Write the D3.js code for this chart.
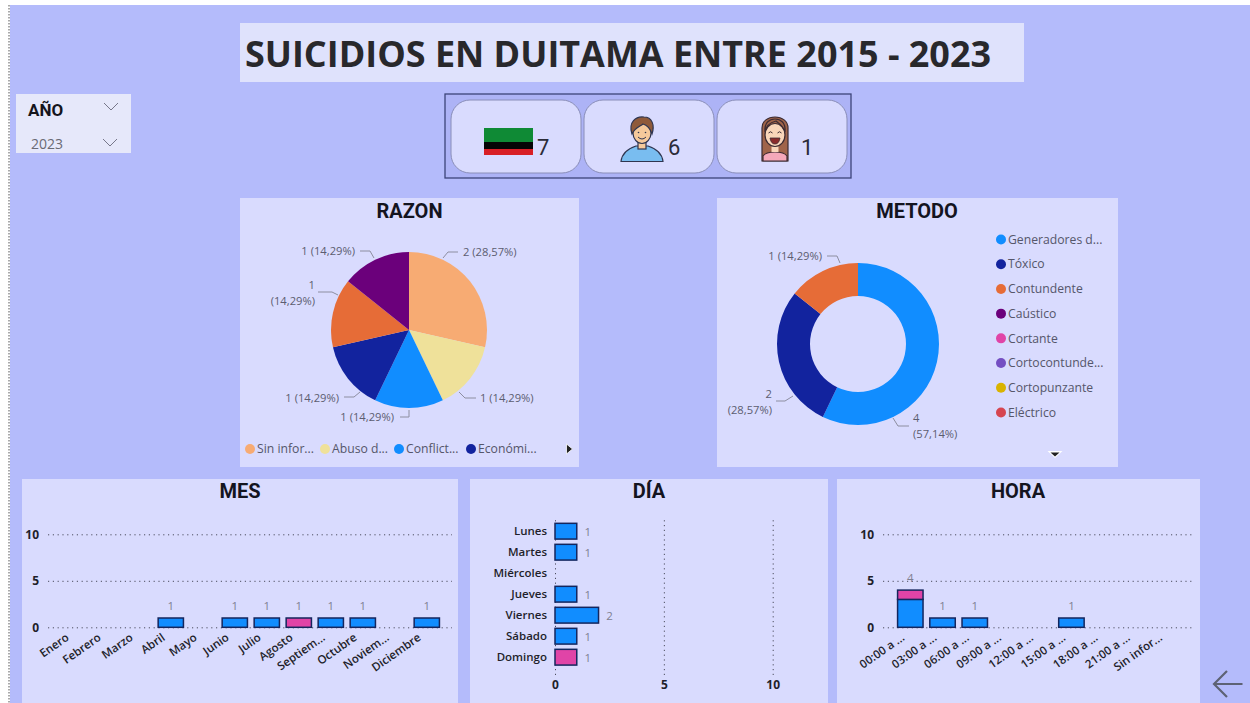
<!DOCTYPE html>
<html lang="es">
<head>
    <meta charset="UTF-8">
    <title>Suicidios en Duitama</title>
    <script src="https://d3js.org/d3.v7.min.js"></script>
    <style>
        html, body { margin: 0; padding: 0; background: #fff; overflow: hidden; }
        text { font-family: "Open Sans", sans-serif; }
        .panel-title { font-family: Roboto, sans-serif; font-weight: 700; font-size: 20px; fill: #14141f; text-anchor: middle; }
        .tick-label { font-weight: 600; font-size: 11.5px; fill: #1f1f2b; }
        .val-label { font-size: 11.5px; fill: #7f8092; }
        .pie-label { font-size: 11.2px; fill: #5c5d70; }
        .legend-label { font-size: 12.2px; fill: #55566a; }
        .leader { fill: none; stroke: #8d8ea0; stroke-width: 1; }
        .card-num { font-family: Roboto, sans-serif; font-size: 22px; fill: #2b2b38; }
    </style>
</head>
<body>
    <svg id="chart" width="1250" height="703"></svg>

    <script>
        // card totals
        const cardValues = [7, 6, 1];

        // razon pie
        const razonValues = [2, 1, 1, 1, 1, 1];
        const razonLabels = ["2 (28,57%)", "1 (14,29%)", "1 (14,29%)", "1 (14,29%)", "1\n(14,29%)", "1 (14,29%)"];
        const razonColors = ["#f7ab73", "#efe19a", "#118dff", "#12239e", "#e66c37", "#6b007b"];
        const razonLegend = ["Sin infor...", "Abuso d...", "Conflict...", "Económi..."];

        // metodo donut
        const metodoValues = [4, 2, 1];
        const metodoLabels = ["4\n(57,14%)", "2\n(28,57%)", "1 (14,29%)"];
        const metodoLegend = ["Generadores d...", "Tóxico", "Contundente", "Caústico", "Cortante", "Cortocontunde...", "Cortopunzante", "Eléctrico"];
        const metodoColors = ["#118dff", "#12239e", "#e66c37", "#6b007b", "#e044a7", "#744ec2", "#d9b300", "#d64550"];

        // mes
        const meses = ["Enero", "Febrero", "Marzo", "Abril", "Mayo", "Junio", "Julio", "Agosto", "Septiem...", "Octubre", "Noviem...", "Diciembre"];
        const mesBlue = [0, 0, 0, 1, 0, 1, 1, 0, 1, 1, 0, 1];
        const mesPink = [0, 0, 0, 0, 0, 0, 0, 1, 0, 0, 0, 0];

        // dia
        const dias = ["Lunes", "Martes", "Miércoles", "Jueves", "Viernes", "Sábado", "Domingo"];
        const diaBlue = [1, 1, 0, 1, 2, 1, 0];
        const diaPink = [0, 0, 0, 0, 0, 0, 1];

        // hora
        const horas = ["00:00 a ...", "03:00 a ...", "06:00 a ...", "09:00 a ...", "12:00 a ...", "15:00 a ...", "18:00 a ...", "21:00 a ...", "Sin infor..."];
        const horaBlue = [3, 1, 1, 0, 0, 1, 0, 0, 0];
        const horaPink = [1, 0, 0, 0, 0, 0, 0, 0, 0];

        const axisTicks = [0, 5, 10];

        const blue = "#118dff", pink = "#e044a7", barStroke = "#14265e";
        const panelFill = "#d9dbfe";

        const svg = d3.select("#chart");

        // page background
        svg.append("rect").attr("width", 1250).attr("height", 703).attr("fill", "#fff");
        svg.append("rect").attr("x", 10).attr("y", 5).attr("width", 1240).attr("height", 698).attr("fill", "#b4bbfb");
        svg.append("line").attr("x1", 9).attr("x2", 9).attr("y1", 5).attr("y2", 703)
            .attr("stroke", "#555").attr("stroke-dasharray", "1.5,1.5");

        function panel(x, y, w, h, fill) {
            svg.append("rect").attr("x", x).attr("y", y).attr("width", w).attr("height", h).attr("fill", fill || panelFill);
        }

        // title
        panel(240, 23, 784, 59, "#dfe2fc");
        svg.append("text").attr("x", 245).attr("y", 66.5)
            .attr("textLength", 746).attr("lengthAdjust", "spacingAndGlyphs")
            .style("font-weight", 700).style("font-size", "35px").attr("fill", "#28282c")
            .text("SUICIDIOS EN DUITAMA ENTRE 2015 - 2023");

        // slicer
        panel(16, 94, 115, 59, "#e6e8fa");
        svg.append("text").attr("x", 28).attr("y", 116).style("font-family", "Roboto").style("font-weight", 700)
            .style("font-size", "17px").attr("fill", "#15151c").text("AÑO");
        svg.append("text").attr("x", 31).attr("y", 149).style("font-size", "14px").attr("fill", "#6a6a74").text("2023");
        [[111, 107], [110, 143]].forEach(([cx, cy]) => {
            svg.append("path").attr("d", `M${cx - 7},${cy - 4}L${cx},${cy + 3}L${cx + 7},${cy - 4}`)
                .attr("fill", "none").attr("stroke", "#77778a").attr("stroke-width", 1);
        });

        // cards
        svg.append("rect").attr("x", 445).attr("y", 94).attr("width", 406).attr("height", 84)
            .attr("fill", "#adb3f6").attr("stroke", "#3c4478").attr("stroke-width", 1.3);
        [451, 584, 717].forEach(x => {
            svg.append("rect").attr("x", x).attr("y", 100).attr("width", 130).attr("height", 73).attr("rx", 19)
                .attr("fill", panelFill).attr("stroke", "#8a8eb8").attr("stroke-width", 1);
        });
        [537, 668, 801].forEach((x, i) => {
            svg.append("text").attr("class", "card-num").attr("x", x).attr("y", 155).text(cardValues[i]);
        });

        // flag
        const flag = svg.append("g");
        flag.append("rect").attr("x", 484).attr("y", 128).attr("width", 49).attr("height", 14).attr("fill", "#0f8a35");
        flag.append("rect").attr("x", 484).attr("y", 142).attr("width", 49).attr("height", 7).attr("fill", "#050505");
        flag.append("rect").attr("x", 484).attr("y", 149).attr("width", 49).attr("height", 6).attr("fill", "#d81f26");

        // man icon
        const man = svg.append("g").attr("transform", "translate(642,0)").attr("stroke", "#2f3550").attr("stroke-width", 1.2);
        man.append("path").attr("d", "M-21,161.5C-20,152 -12,148 -6,146L6,146C12,148 20,152 21,161.5Z").attr("fill", "#79bdf0");
        man.append("rect").attr("x", -4).attr("y", 140).attr("width", 8).attr("height", 9).attr("fill", "#f5c99b");
        man.append("ellipse").attr("cy", 133).attr("rx", 9).attr("ry", 10.5).attr("fill", "#f5c99b");
        man.append("path").attr("d", "M-10,134C-14,122 -6,116 2,117C10,117 13,125 10,134C8,128 5,125 1,124C-3,127 -7,128 -10,134Z").attr("fill", "#8f5a3a");
        man.append("circle").attr("cx", -3.5).attr("cy", 132.5).attr("r", 0.8).attr("fill", "#2f3550").attr("stroke", "none");
        man.append("circle").attr("cx", 3.5).attr("cy", 132.5).attr("r", 0.8).attr("fill", "#2f3550").attr("stroke", "none");
        man.append("path").attr("d", "M-4,137Q0,141 4,137").attr("fill", "none").attr("stroke-width", 1);

        // woman icon
        const woman = svg.append("g").attr("transform", "translate(775,0)").attr("stroke", "#3d2c33").attr("stroke-width", 1.2);
        woman.append("path").attr("d", "M-13,161V128C-13,121 -7,117 0,117C7,117 13,121 13,128V161Z").attr("fill", "#a0644a");
        woman.append("path").attr("d", "M-12,161V156C-10,153 -5,152 0,152C5,152 10,153 12,156V161Z").attr("fill", "#f5a8ba");
        woman.append("rect").attr("x", -3.5).attr("y", 145).attr("width", 7).attr("height", 7).attr("fill", "#f9d6ba").attr("stroke", "none");
        woman.append("ellipse").attr("cy", 135).attr("rx", 10).attr("ry", 11.5).attr("fill", "#f9d6ba");
        woman.append("path").attr("d", "M-10,132C-9,125 -3,122 1,121C5,124 9,127 10,132C11,122 5,119 0,119C-5,119 -11,122 -10,132Z").attr("fill", "#a0644a");
        woman.append("path").attr("d", "M-6.5,133Q-4.5,130.5 -2.5,133M2.5,133Q4.5,130.5 6.5,133").attr("fill", "none").attr("stroke-width", 1);
        woman.append("path").attr("d", "M-5,138H5Q4,144 0,144Q-4,144 -5,138Z").attr("fill", "#8a2b2b").attr("stroke-width", 0.8);

        // razon
        panel(240, 198, 339, 269);
        svg.append("text").attr("class", "panel-title").attr("x", 409.5).attr("y", 218).text("RAZON");

        const pie = d3.pie().sort(null).value(d => d);
        const razonArc = d3.arc().innerRadius(0).outerRadius(78);
        const razonG = svg.append("g").attr("transform", "translate(409,330)");
        razonG.selectAll("path").data(pie(razonValues)).enter().append("path")
            .attr("d", razonArc).attr("fill", (d, i) => razonColors[i]);

        // callout layout for the pie labels, same order as the slices
        const razonCallouts = [
            { line: [[443, 258], [448, 252], [458, 252]], x: 463, y: 252, anchor: "start" },
            { line: [[459, 392], [465, 398], [476, 398]], x: 480, y: 398.5, anchor: "start" },
            { line: [[409, 410], [409, 417], [400, 417]], x: 394, y: 417.5, anchor: "end" },
            { line: [[360, 392], [354, 397], [344, 397]], x: 339, y: 398.5, anchor: "end" },
            { line: [[338, 295], [332, 292], [318, 292]], x: 315, y: 285, anchor: "end" },
            { line: [[374, 258], [370, 251], [360, 251]], x: 355, y: 251, anchor: "end" }
        ];
        const metodoCallouts = [
            { line: [[893, 418], [898, 426], [909, 426]], x: 913, y: 418, anchor: "start" },
            { line: [[793, 396], [785, 401], [776, 401]], x: 772, y: 394, anchor: "end" },
            { line: [[840, 263], [837, 256], [827, 256]], x: 822, y: 256, anchor: "end" }
        ];

        function drawCallouts(callouts, labels) {
            callouts.forEach((c, i) => {
                svg.append("path").attr("class", "leader").attr("d", d3.line()(c.line));
                labels[i].split("\n").forEach((t, j) => {
                    svg.append("text").attr("class", "pie-label").attr("x", c.x).attr("y", c.y + j * 16)
                        .attr("dy", "0.35em").attr("text-anchor", c.anchor).text(t);
                });
            });
        }
        drawCallouts(razonCallouts, razonLabels);

        const razonLegendX = d3.scaleOrdinal().domain(razonLegend).range([250, 325, 399, 471]);
        razonLegend.forEach((name, i) => {
            svg.append("circle").attr("cx", razonLegendX(name)).attr("cy", 449).attr("r", 5).attr("fill", razonColors[i]);
            svg.append("text").attr("class", "legend-label").attr("x", razonLegendX(name) + 7).attr("y", 449)
                .attr("dy", "0.35em").text(name);
        });
        svg.append("path").attr("d", "M566.5,444L572.5,449L566.5,454Z").attr("fill", "#222").attr("stroke", "#fff").attr("stroke-width", 0.8);

        // metodo
        panel(717, 198, 401, 269);
        svg.append("text").attr("class", "panel-title").attr("x", 917).attr("y", 218).text("METODO");

        const metodoArc = d3.arc().innerRadius(48).outerRadius(81);
        const metodoG = svg.append("g").attr("transform", "translate(858,344)");
        metodoG.selectAll("path").data(pie(metodoValues)).enter().append("path")
            .attr("d", metodoArc).attr("fill", (d, i) => metodoColors[i]);
        drawCallouts(metodoCallouts, metodoLabels);

        const metodoLegendY = d3.scalePoint().domain(metodoLegend).range([239.5, 412.5]);
        metodoLegend.forEach((name, i) => {
            svg.append("circle").attr("cx", 1001).attr("cy", metodoLegendY(name)).attr("r", 5).attr("fill", metodoColors[i]);
            svg.append("text").attr("class", "legend-label").attr("x", 1008).attr("y", metodoLegendY(name))
                .attr("dy", "0.35em").text(name);
        });
        svg.append("path").attr("d", "M1047.5,451H1062.5L1055,458Z").attr("fill", "#fff");
        svg.append("path").attr("d", "M1050.5,452.5H1059.5L1055,456.5Z").attr("fill", "#222");

        // stacked columns, used for MES and HORA
        function columnChart(opts) {
            const x = d3.scaleBand().domain(opts.cats).range(opts.xRange).paddingInner(0.21).paddingOuter(0.105);
            const y = d3.scaleLinear().domain([0, 10]).range([627.3, 534.3]);
            const rows = opts.cats.map((c, i) => ({ cat: c, blue: opts.blue[i], pink: opts.pink[i] }));

            const axisY = svg.append("g").attr("transform", `translate(${opts.gridX[0]},0)`)
                .call(d3.axisLeft(y).tickValues(axisTicks).tickSize(opts.gridX[0] - opts.gridX[1]).tickPadding(9));
            axisY.select(".domain").remove();
            axisY.selectAll("line").attr("stroke", "#4c4d5e").attr("stroke-dasharray", "1.2,3.6");
            axisY.selectAll("text").attr("class", "tick-label").style("font-weight", 700).style("font-size", "12px");

            const series = d3.stack().keys(["blue", "pink"])(rows);
            svg.selectAll(null).data(series).enter().append("g")
                .attr("fill", d => d.key === "blue" ? blue : pink)
                .selectAll("rect").data(d => d.filter(s => s[1] > s[0])).enter().append("rect")
                .attr("x", d => x(d.data.cat))
                .attr("y", d => y(d[1]))
                .attr("width", x.bandwidth())
                .attr("height", d => y(d[0]) - y(d[1]))
                .attr("stroke", barStroke).attr("stroke-width", 1.5);

            svg.selectAll(null).data(rows.filter(r => r.blue + r.pink > 0)).enter().append("text")
                .attr("class", "val-label").attr("text-anchor", "middle")
                .attr("x", d => x(d.cat) + x.bandwidth() / 2)
                .attr("y", d => y(d.blue + d.pink) - 12).attr("dy", "0.35em")
                .text(d => d.blue + d.pink);

            const axisX = svg.append("g").attr("transform", "translate(0,627.3)")
                .call(d3.axisBottom(x).tickSize(0).tickPadding(0));
            axisX.select(".domain").remove();
            axisX.selectAll("text").attr("class", "tick-label")
                .attr("text-anchor", "end").attr("dy", 0)
                .attr("transform", "translate(-5,12) rotate(-35)");
        }

        // mes
        panel(22, 479, 436, 224);
        svg.append("text").attr("class", "panel-title").attr("x", 240).attr("y", 498).text("MES");
        columnChart({ cats: meses, blue: mesBlue, pink: mesPink, xRange: [58.8, 442.8], gridX: [48, 452] });

        // dia, horizontal bars
        panel(470, 479, 358, 224);
        svg.append("text").attr("class", "panel-title").attr("x", 649).attr("y", 498).text("DÍA");
        const diaX = d3.scaleLinear().domain([0, 10]).range([555, 772.7]);
        const diaY = d3.scaleBand().domain(dias).range([520.7, 667.7]).paddingInner(0.25).paddingOuter(0.125);
        const diaGrid = svg.append("g").attr("transform", "translate(0,675)")
            .call(d3.axisBottom(diaX).tickValues(axisTicks).tickSize(-157).tickPadding(5));
        diaGrid.select(".domain").remove();
        diaGrid.selectAll("line").attr("stroke", "#4c4d5e").attr("stroke-dasharray", "1.2,3.6");
        diaGrid.selectAll("text").attr("class", "tick-label").style("font-weight", 700).style("font-size", "12px");

        const diaAxis = svg.append("g").attr("transform", "translate(555,0)")
            .call(d3.axisLeft(diaY).tickSize(0).tickPadding(8));
        diaAxis.select(".domain").remove();
        diaAxis.selectAll("text").attr("class", "tick-label");

        const diaRows = dias.map((d, i) => ({ dia: d, v: diaBlue[i] + diaPink[i], pink: diaPink[i] > 0 }));
        svg.selectAll(null).data(diaRows.filter(d => d.v > 0)).enter().append("rect")
            .attr("x", diaX(0))
            .attr("y", d => diaY(d.dia))
            .attr("width", d => diaX(d.v) - diaX(0))
            .attr("height", diaY.bandwidth())
            .attr("fill", d => d.pink ? pink : blue)
            .attr("stroke", barStroke).attr("stroke-width", 1.5);
        svg.selectAll(null).data(diaRows.filter(d => d.v > 0)).enter().append("text")
            .attr("class", "val-label").attr("text-anchor", "middle")
            .attr("x", d => diaX(d.v) + 11)
            .attr("y", d => diaY(d.dia) + diaY.bandwidth() / 2 + 1).attr("dy", "0.35em")
            .text(d => d.v);

        // hora
        panel(837, 479, 363, 224);
        svg.append("text").attr("class", "panel-title").attr("x", 1018).attr("y", 498).text("HORA");
        columnChart({ cats: horas, blue: horaBlue, pink: horaPink, xRange: [894.2, 1184.2], gridX: [883, 1192] });

        // back arrow
        svg.append("path").attr("d", "M1242.5,684H1214M1227,671L1214,684L1227,697")
            .attr("fill", "none").attr("stroke", "#5d6274").attr("stroke-width", 2.2);
    </script>
</body>
</html>
